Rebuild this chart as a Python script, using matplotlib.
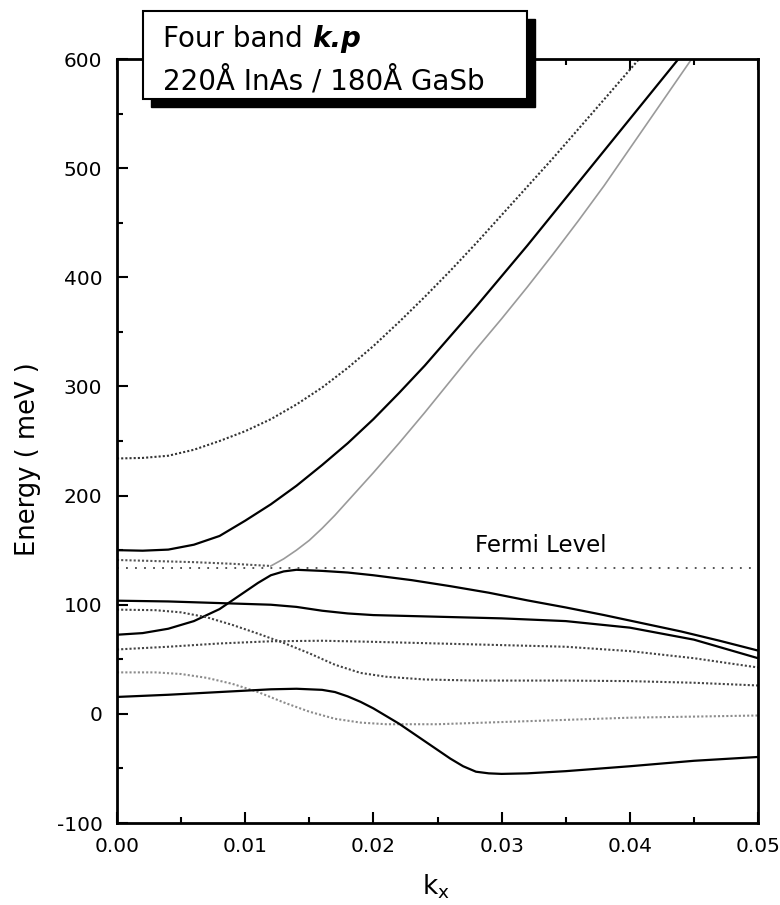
import matplotlib.pyplot as plt
from matplotlib.patches import Rectangle
from matplotlib.ticker import MultipleLocator

plt.rcParams['font.family'] = ['DejaVu Sans']
plt.rcParams['axes.unicode_minus'] = False

# band A (solid, starts at 150 meV)
kA = [0, 0.002, 0.004, 0.006, 0.008, 0.010, 0.012, 0.014, 0.016, 0.018, 0.020,
      0.022, 0.024, 0.026, 0.028, 0.030, 0.032, 0.034, 0.036, 0.038, 0.040,
      0.042, 0.044]
EA = [150, 149.5, 150.5, 155, 163, 177, 192, 209, 228, 248, 270,
      294, 319, 346, 373, 401, 429, 458, 487, 516, 545,
      574, 603]

# band H (dotted, starts at 234 meV)
kH = [0, 0.002, 0.004, 0.006, 0.008, 0.010, 0.012, 0.014, 0.016, 0.018, 0.020,
      0.022, 0.024, 0.026, 0.028, 0.030, 0.032, 0.034, 0.036, 0.038, 0.0408]
EH = [234, 234.5, 236.5, 242, 250, 259, 270, 283.5, 299, 317, 337,
      359, 382, 406, 431, 457, 483, 509, 536, 563, 601]

# band I: dotted part below 0.012, then thin grey rising branch
kI_dot = [0, 0.003, 0.006, 0.009, 0.012]
EI_dot = [141, 140, 139, 137.5, 135.5]
kI = [0.012, 0.013, 0.014, 0.015, 0.016, 0.017, 0.018, 0.019, 0.020, 0.022,
      0.024, 0.026, 0.028, 0.030, 0.032, 0.034, 0.036, 0.038, 0.040, 0.042,
      0.044, 0.045]
EI = [135.5, 142, 150, 159, 170, 182, 195, 208, 221, 248,
      276, 305, 334, 362, 391, 421, 452, 484, 518, 552,
      586, 603]

# band B (solid, starts at ~72 meV, peaks near Fermi level)
kB = [0, 0.002, 0.004, 0.006, 0.008, 0.010, 0.011, 0.012, 0.013, 0.014, 0.016,
      0.018, 0.020, 0.023, 0.026, 0.029, 0.032, 0.035, 0.038, 0.041, 0.044,
      0.047, 0.050]
EB = [72.5, 74, 78, 85, 96, 112, 120, 127, 130.5, 132, 131,
      129.5, 127, 122.5, 117, 111, 104, 97.5, 90.5, 83, 75.5,
      67, 58]

# band C (solid, starts at ~104 meV)
kC = [0, 0.004, 0.008, 0.012, 0.014, 0.016, 0.018, 0.020, 0.025, 0.030, 0.035,
      0.040, 0.045, 0.050]
EC = [103.7, 103, 101.5, 100, 98, 94.5, 92, 90.5, 89, 87.5, 85,
      79, 68, 51]

# band D (dotted, starts at ~95 meV)
kD = [0, 0.003, 0.005, 0.007, 0.009, 0.011, 0.013, 0.015, 0.017, 0.019, 0.021,
      0.024, 0.028, 0.035, 0.040, 0.045, 0.050]
ED = [95.5, 95, 93, 88.5, 81.5, 73.5, 65, 55.5, 45, 37.5, 34,
      31.5, 30.5, 30.5, 30, 28.5, 26]

# band E (dotted, starts at ~59 meV)
kE = [0, 0.004, 0.008, 0.012, 0.016, 0.020, 0.025, 0.030, 0.035, 0.040, 0.045,
      0.050]
EE = [59, 61.5, 64.5, 66.5, 67, 66, 64.5, 63, 61.5, 57.5, 51,
      42.5]

# band F (light grey dotted, starts at ~38 meV)
kF = [0, 0.003, 0.005, 0.007, 0.009, 0.011, 0.013, 0.015, 0.017, 0.019, 0.021,
      0.025, 0.030, 0.035, 0.040, 0.045, 0.050]
EF = [38, 38, 36.5, 33, 27.5, 20, 10.5, 2, -4.5, -8, -9.5,
      -9.5, -7.5, -5.5, -3.5, -2.5, -1.5]

# band G (solid, starts at ~15 meV, dips to -55)
kG = [0, 0.004, 0.008, 0.012, 0.014, 0.016, 0.017, 0.018, 0.019, 0.020, 0.021,
      0.022, 0.023, 0.024, 0.025, 0.026, 0.027, 0.028, 0.029, 0.030, 0.032,
      0.035, 0.040, 0.045, 0.050]
EG = [15.5, 17.5, 20, 22.5, 23, 22, 20, 16, 11, 5, -2,
      -9, -17, -25, -33, -41, -48, -53, -54.5, -55, -54.5,
      -52.5, -48, -43, -39.5]

E_fermi = 134

fig = plt.figure(figsize=(7.8, 9.05), dpi=100)
ax = fig.add_axes([0.15, 0.0906, 0.8218, 0.8442])

dots = (0, (1, 1))
ax.plot(kA, EA, color='black', lw=1.6)
ax.plot(kH, EH, color='#333333', lw=1.5, linestyle=dots)
ax.plot(kI_dot, EI_dot, color='#555555', lw=1.5, linestyle=dots)
ax.plot(kI, EI, color='#9a9a9a', lw=1.2)
ax.plot(kB, EB, color='black', lw=1.6)
ax.plot(kC, EC, color='black', lw=1.6)
ax.plot(kD, ED, color='#444444', lw=1.5, linestyle=dots)
ax.plot(kE, EE, color='#444444', lw=1.5, linestyle=dots)
ax.plot(kF, EF, color='#8c8c8c', lw=1.5, linestyle=dots)
ax.plot(kG, EG, color='black', lw=1.6)
ax.plot([0, 0.05], [E_fermi, E_fermi], color='#444444', lw=1.3,
        linestyle=(0, (1, 4)))

ax.text(0.0279, 148, 'Fermi Level', fontsize=16.5)

ax.set_xlim(0, 0.05)
ax.set_ylim(-100, 600)
ax.xaxis.set_major_locator(MultipleLocator(0.01))
ax.xaxis.set_minor_locator(MultipleLocator(0.005))
ax.yaxis.set_major_locator(MultipleLocator(100))
ax.yaxis.set_minor_locator(MultipleLocator(50))
ax.xaxis.set_major_formatter(plt.FormatStrFormatter('%.2f'))
ax.tick_params(which='both', direction='in', top=True, right=False,
               width=1.5, labelsize=14.5)
ax.tick_params(which='major', length=8)
ax.tick_params(which='minor', length=4.5)
ax.tick_params(axis='x', pad=10)
ax.tick_params(axis='y', pad=10.5)
for s in ax.spines.values():
    s.set_linewidth(2)

ax.set_ylabel('Energy ( meV )', fontsize=18.5, ha='center', va='center')
ax.yaxis.set_label_coords(-0.139, 0.476)
ax.set_xlabel(r'k$_\mathregular{x}$', fontsize=19, ha='center', va='center')
ax.xaxis.set_label_coords(0.498, -0.084)

# title box with drop shadow (figure pixel coords converted)
W, H = 780.0, 905.0
fig.patches.append(Rectangle((151 / W, 1 - 107 / H), 384 / W, 88 / H,
                             transform=fig.transFigure, facecolor='black',
                             edgecolor='black', zorder=5))
fig.patches.append(Rectangle((143 / W, 1 - 99 / H), 384 / W, 88 / H,
                             transform=fig.transFigure, facecolor='white',
                             edgecolor='black', lw=1.5, zorder=6))
t1 = fig.text(163 / W, 1 - 47 / H, 'Four band', fontsize=20, zorder=7,
              va='baseline')
fig.text(163 / W, 1 - 90 / H, '220Å InAs / 180Å GaSb', fontsize=20, zorder=7,
         va='baseline')
r = fig.canvas.get_renderer()
bb = t1.get_window_extent(renderer=r)
fig.text((bb.x1 + 9) / W, 1 - 47 / H, 'k.p', fontsize=20, fontweight='bold',
         fontstyle='italic', zorder=7, va='baseline')

fig.savefig('out.png', dpi=100)
